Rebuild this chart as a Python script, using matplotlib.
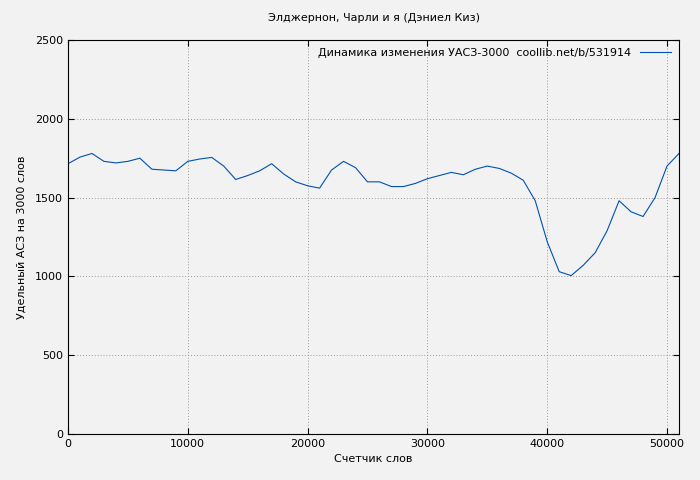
import matplotlib
matplotlib.use('Agg')
import matplotlib.pyplot as plt

words = list(range(0, 52000, 1000))
uasz = [1715, 1757, 1780, 1730, 1720, 1730, 1750, 1680, 1675, 1670,
        1730, 1745, 1755, 1700, 1615, 1640, 1670, 1715, 1650, 1600,
        1575, 1560, 1675, 1730, 1690, 1600, 1600, 1570, 1570, 1590,
        1620, 1640, 1660, 1645, 1680, 1700, 1685, 1655, 1610, 1480,
        1220, 1030, 1005, 1070, 1150, 1290, 1480, 1410, 1380, 1500,
        1700, 1780]

plt.rcParams['font.family'] = ['DejaVu Sans']
plt.rcParams['font.size'] = 8

fig = plt.figure(figsize=(7, 4.8), dpi=100)
fig.patch.set_facecolor('#f2f2f2')
ax = fig.add_axes([68 / 700, 46 / 480, 611 / 700, 394 / 480])
ax.set_facecolor('#f2f2f2')

ax.plot(words, uasz, color='#0050b4', linewidth=0.8,
        label='Динамика изменения УАСЗ-3000  coollib.net/b/531914')

ax.set_xlim(0, 51000)
ax.set_ylim(0, 2500)
ax.set_xticks(range(0, 51000, 10000))
ax.set_yticks(range(0, 2501, 500))
ax.grid(True, color='#999999', linestyle=(0, (1, 2)), linewidth=0.7)
ax.tick_params(direction='in', length=4, top=True, right=True)
for s in ax.spines.values():
    s.set_color('black')

ax.set_title('Элджернон, Чарли и я (Дэниел Киз)', fontsize=8, pad=14)
ax.set_xlabel('Счетчик слов', labelpad=4)
ax.set_ylabel('Удельный АСЗ на 3000 слов', labelpad=6)

leg = ax.legend(loc='upper right', frameon=False, markerfirst=False,
                handlelength=2.8, borderaxespad=0.3)

fig.savefig('out.png', dpi=100, facecolor=fig.get_facecolor())
